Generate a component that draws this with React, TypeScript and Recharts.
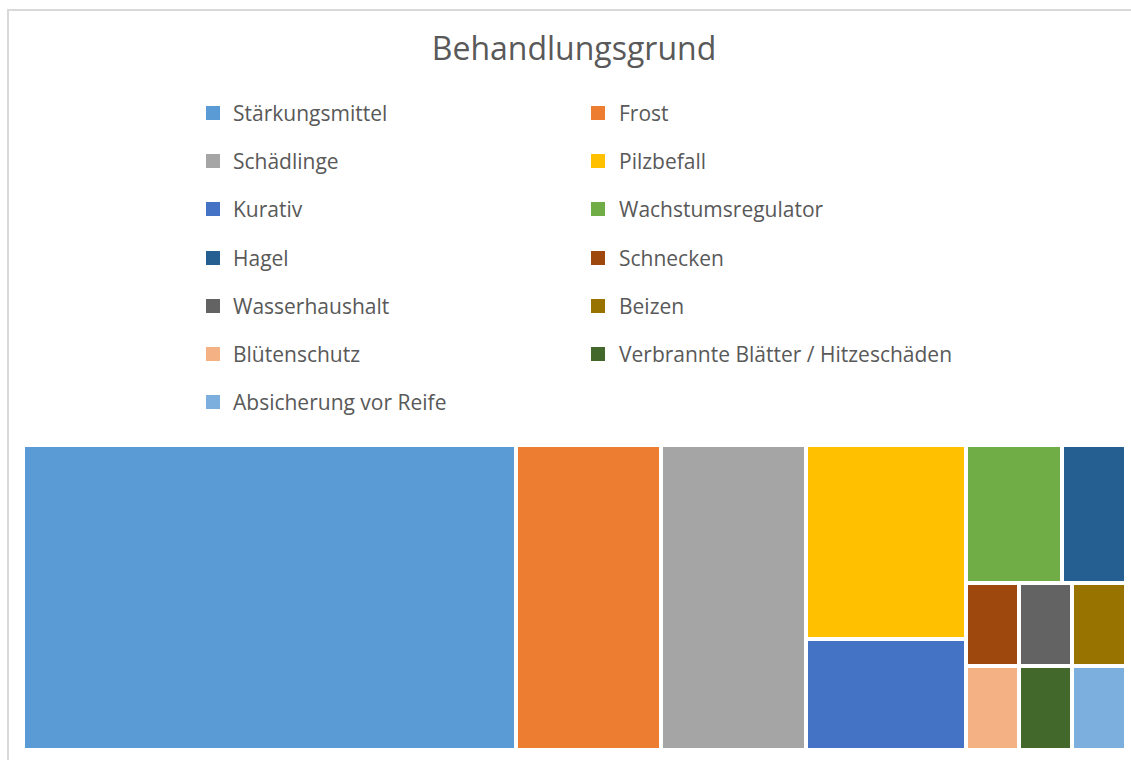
import React from "react";
import { Treemap } from "recharts";

const names = [
  "Stärkungsmittel",
  "Frost",
  "Schädlinge",
  "Pilzbefall",
  "Kurativ",
  "Wachstumsregulator",
  "Hagel",
  "Schnecken",
  "Wasserhaushalt",
  "Beizen",
  "Blütenschutz",
  "Verbrannte Blätter / Hitzeschäden",
  "Absicherung vor Reife",
];

const values = [34, 10, 10, 7, 4, 3, 2, 1, 1, 1, 1, 1, 1];

const colors = [
  "#5B9BD5",
  "#ED7D31",
  "#A5A5A5",
  "#FFC000",
  "#4472C4",
  "#70AD47",
  "#255E91",
  "#9E480E",
  "#636363",
  "#997300",
  "#F4B183",
  "#43682B",
  "#7CAFDD",
];

// how the tiles are grouped so the layout follows the Excel one
const groups = [[0], [1], [2], [3], [4], [5, 6], [7, 8, 9], [10, 11, 12]];

const leaf = (i: number) => ({ name: names[i], value: values[i], color: colors[i] });

const treeData = groups.map((g, gi) =>
  g.length === 1 ? leaf(g[0]) : { name: `group-${gi}`, children: g.map(leaf) }
);

const TEXT = "#595959";
const FONT = "'Open Sans', sans-serif";

function Tile(props: any) {
  const { x, y, width, height, children, color, depth } = props;
  if (depth === 0 || (children && children.length)) return <g />;
  return (
    <rect
      x={x + 2}
      y={y + 2}
      width={Math.max(0, width - 4)}
      height={Math.max(0, height - 4)}
      fill={color}
    />
  );
}

export default function App() {
  return (
    <div
      style={{
        position: "absolute",
        left: 0,
        top: 0,
        width: 1131,
        height: 760,
        overflow: "hidden",
        background: "#fff",
        fontFamily: FONT,
      }}
    >
      <div
        style={{
          position: "absolute",
          left: 7,
          top: 9,
          width: 1200,
          height: 800,
          border: "2px solid #D9D9D9",
        }}
      />
      <div
        style={{
          position: "absolute",
          left: 0,
          width: 1148,
          top: 26,
          textAlign: "center",
          fontSize: 32,
          color: TEXT,
          lineHeight: "44px",
        }}
      >
        Behandlungsgrund
      </div>
      {names.map((n, i) => {
        const col = i % 2;
        const row = Math.floor(i / 2);
        const cy = 113 + row * 48.2;
        const sx = col === 0 ? 206 : 591;
        const tx = col === 0 ? 233 : 619;
        return (
          <React.Fragment key={n}>
            <div
              style={{
                position: "absolute",
                left: sx,
                top: cy - 7,
                width: 14,
                height: 14,
                background: colors[i],
              }}
            />
            <div
              style={{
                position: "absolute",
                left: tx,
                top: cy - 15,
                height: 30,
                lineHeight: "30px",
                fontSize: 21,
                color: TEXT,
                whiteSpace: "nowrap",
              }}
            >
              {n}
            </div>
          </React.Fragment>
        );
      })}
      <div style={{ position: "absolute", left: 23, top: 445 }}>
        <Treemap
          width={1103}
          height={305}
          data={treeData}
          dataKey="value"
          nameKey="name"
          aspectRatio={0.9}
          isAnimationActive={false}
          content={<Tile />}
        />
      </div>
    </div>
  );
}
